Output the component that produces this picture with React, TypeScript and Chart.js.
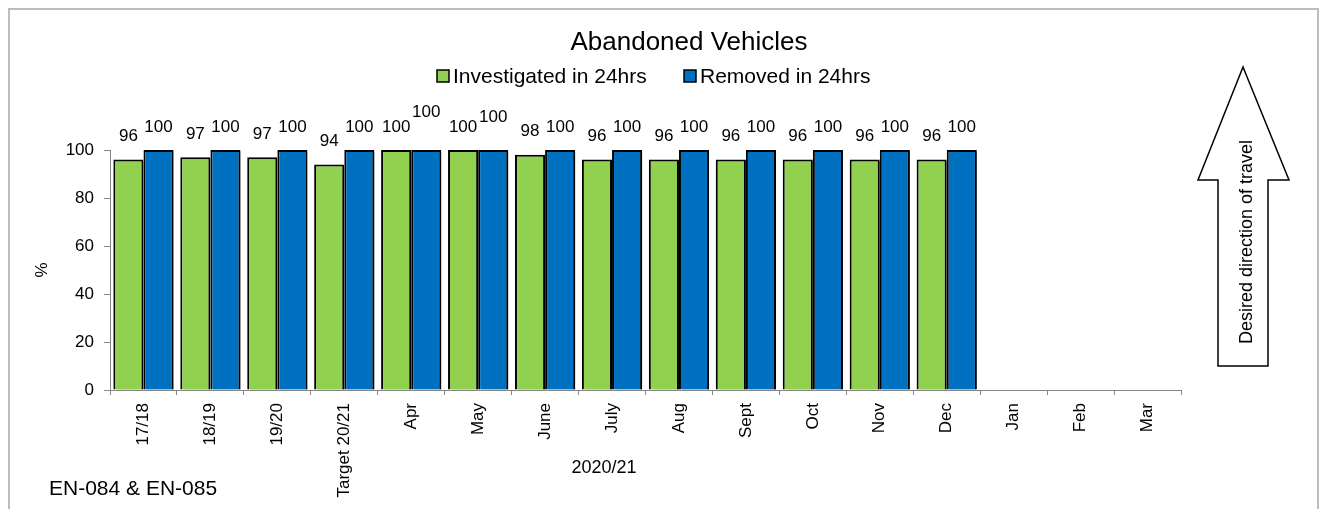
import React, { useEffect, useRef } from "react";
import { Chart, registerables } from "chart.js";

Chart.register(...registerables);

const categories = ["17/18", "18/19", "19/20", "Target 20/21", "Apr", "May", "June", "July", "Aug", "Sept", "Oct", "Nov", "Dec", "Jan", "Feb", "Mar"];
const investigated = [96, 97, 97, 94, 100, 100, 98, 96, 96, 96, 96, 96, 96, null, null, null];
const removed = [100, 100, 100, 100, 100, 100, 100, 100, 100, 100, 100, 100, 100, null, null, null];
const yTicks = [0, 20, 40, 60, 80, 100];
const seriesNames = ["Investigated in 24hrs", "Removed in 24hrs"];
const titleText = "Abandoned Vehicles";
const xAxisTitle = "2020/21";
const yAxisTitle = "%";
const footnote = "EN-084 & EN-085";
const arrowText = "Desired direction of travel";

// label vertical lifts (style only, Excel overlap adjustment)
const investigatedLabelLift = [0, 0, 0, 0, 0, 0, 0, 0, 0, 0, 0, 0, 0, 0, 0, 0];
const removedLabelLift = [0, 0, 0, 0, 15, 10, 0, 0, 0, 0, 0, 0, 0, 0, 0, 0];

const GREEN = "#92D050";
const BLUE = "#0070C0";
const FONT = "'Liberation Sans', Arial, sans-serif";

const overlayPlugin = {
  id: "overlay",
  beforeDatasetsDraw(chart: any) {
    const ctx = chart.ctx;
    ctx.save();
    ctx.shadowColor = "rgba(0,0,0,0.3)";
    ctx.shadowOffsetX = 3;
    ctx.shadowOffsetY = 2;
    ctx.shadowBlur = 0;
  },
  afterDatasetsDraw(chart: any) {
    const ctx = chart.ctx;
    ctx.restore();
    // data labels
    ctx.save();
    ctx.font = `17px ${FONT}`;
    ctx.fillStyle = "#000";
    ctx.textAlign = "center";
    ctx.textBaseline = "middle";
    const lifts = [investigatedLabelLift, removedLabelLift];
    chart.data.datasets.forEach((ds: any, di: number) => {
      const meta = chart.getDatasetMeta(di);
      meta.data.forEach((el: any, i: number) => {
        const v = ds.data[i];
        if (v === null || v === undefined) return;
        ctx.fillText(String(v), el.x, el.y - 23 - (lifts[di][i] || 0));
      });
    });
    ctx.restore();
  },
  afterDraw(chart: any) {
    const ctx = chart.ctx;
    const area = chart.chartArea;
    ctx.save();
    // frame
    ctx.strokeStyle = "#bdbdbd";
    ctx.lineWidth = 2;
    ctx.strokeRect(9, 9, 1309, 520);

    // title
    ctx.fillStyle = "#000";
    ctx.font = `26px ${FONT}`;
    ctx.textAlign = "center";
    ctx.textBaseline = "middle";
    ctx.fillText(titleText, 689, 43);

    // legend
    ctx.font = `21px ${FONT}`;
    ctx.textAlign = "left";
    const legendItems = [
      { x: 437, color: GREEN, text: seriesNames[0] },
      { x: 684, color: BLUE, text: seriesNames[1] },
    ];
    legendItems.forEach((it) => {
      ctx.fillStyle = it.color;
      ctx.fillRect(it.x, 70, 12, 12);
      ctx.strokeStyle = "#000";
      ctx.lineWidth = 1.5;
      ctx.strokeRect(it.x, 70, 12, 12);
      ctx.fillStyle = "#000";
      ctx.fillText(it.text, it.x + 16, 77);
    });

    // y axis title (rotated)
    ctx.save();
    ctx.translate(42, (area.top + area.bottom) / 2);
    ctx.rotate(-Math.PI / 2);
    ctx.font = `17px ${FONT}`;
    ctx.textAlign = "center";
    ctx.fillText(yAxisTitle, 0, 0);
    ctx.restore();

    // x axis title
    ctx.font = `18px ${FONT}`;
    ctx.textAlign = "center";
    ctx.fillText(xAxisTitle, 604, 468);

    // footnote
    ctx.font = `21px ${FONT}`;
    ctx.textAlign = "left";
    ctx.fillText(footnote, 49, 489);

    // arrow
    ctx.beginPath();
    ctx.moveTo(1243, 67);
    ctx.lineTo(1289, 180);
    ctx.lineTo(1268, 180);
    ctx.lineTo(1268, 366);
    ctx.lineTo(1218, 366);
    ctx.lineTo(1218, 180);
    ctx.lineTo(1198, 180);
    ctx.closePath();
    ctx.fillStyle = "#fff";
    ctx.fill();
    ctx.strokeStyle = "#000";
    ctx.lineWidth = 1.5;
    ctx.stroke();

    ctx.save();
    ctx.translate(1247, 242);
    ctx.rotate(-Math.PI / 2);
    ctx.font = `18px ${FONT}`;
    ctx.textAlign = "center";
    ctx.textBaseline = "middle";
    ctx.fillStyle = "#000";
    ctx.fillText(arrowText, 0, 0);
    ctx.restore();

    ctx.restore();
  },
};

export default function App() {
  const canvasRef = useRef<HTMLCanvasElement | null>(null);

  useEffect(() => {
    const canvas = canvasRef.current;
    if (!canvas) return;
    const chart = new Chart(canvas, {
      type: "bar",
      data: {
        labels: categories,
        datasets: [
          {
            label: seriesNames[0],
            data: investigated,
            backgroundColor: GREEN,
            borderColor: "#000",
            borderWidth: 2,
            categoryPercentage: 0.9,
            barPercentage: 1,
          },
          {
            label: seriesNames[1],
            data: removed,
            backgroundColor: BLUE,
            borderColor: "#000",
            borderWidth: 2,
            categoryPercentage: 0.9,
            barPercentage: 1,
          },
        ],
      },
      options: {
        responsive: false,
        animation: false,
        layout: { padding: { left: 8, right: 143, top: 150, bottom: 0 } },
        plugins: {
          legend: { display: false },
          title: { display: false },
          tooltip: { enabled: false },
        },
        scales: {
          x: {
            grid: { drawOnChartArea: false, tickLength: 5, color: "#868686" },
            border: { color: "#868686", width: 1 },
            ticks: {
              autoSkip: false,
              maxRotation: 90,
              minRotation: 90,
              padding: 8,
              color: "#000",
              font: { family: FONT, size: 17 },
            },
            afterFit(scale: any) {
              scale.height = 119;
            },
          },
          y: {
            min: 0,
            max: 100,
            grid: { drawOnChartArea: false, tickLength: 6, color: "#868686" },
            border: { color: "#868686", width: 1 },
            ticks: {
              padding: 10,
              color: "#000",
              font: { family: FONT, size: 17 },
            },
            afterBuildTicks(scale: any) {
              scale.ticks = yTicks.map((v) => ({ value: v }));
            },
            afterFit(scale: any) {
              scale.width = 102;
            },
          },
        },
      },
      plugins: [overlayPlugin],
    });
    return () => chart.destroy();
  }, []);

  return (
    <div style={{ position: "absolute", left: 0, top: 0, width: 1324, height: 509, background: "#fff" }}>
      <canvas ref={canvasRef} width={1324} height={509} style={{ display: "block" }} />
    </div>
  );
}
